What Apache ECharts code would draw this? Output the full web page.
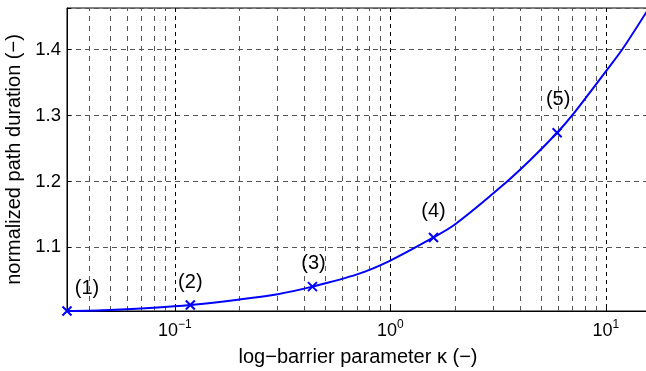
<!DOCTYPE html>
<html>
<head>
<meta charset="utf-8">
<script src="https://cdn.jsdelivr.net/npm/echarts@6/dist/echarts.min.js"></script>
<style>
html,body{margin:0;padding:0;background:#fff;}
#chart{width:646px;height:371px;}
</style>
</head>
<body>
<div id="chart"></div>
<script>
// ---- data ----
const curveKappa = [0.0316, 0.05, 0.08, 0.118, 0.2, 0.3, 0.435, 0.7, 1.0, 1.585, 2.0, 3.24, 4.47, 5.94, 6.97, 10, 11.9, 15.85];
const curveDuration = [1.0035, 1.0052, 1.0085, 1.0126, 1.021, 1.029, 1.0405, 1.059, 1.080, 1.115, 1.135, 1.191, 1.233, 1.2738, 1.30, 1.367, 1.40, 1.463];
const markKappa = [0.0316, 0.118, 0.435, 1.585, 5.94];
const markDuration = [1.0035, 1.0126, 1.0405, 1.115, 1.2738];
const markLabels = ['(1)', '(2)', '(3)', '(4)', '(5)'];
const minorGridX = [0.04, 0.05, 0.06, 0.07, 0.08, 0.09, 0.2, 0.3, 0.4, 0.5, 0.6, 0.7, 0.8, 0.9, 2, 3, 4, 5, 6, 7, 8, 9];
const xTickLabels = {'-1': '10{sup|−1}', '0': '10{sup|0}', '1': '10{sup|1}'};
const yTickLabels = ['1.1', '1.2', '1.3', '1.4'];

// ---- styles ----
const labelOffsets = [[20, -23], [0, -23], [1, -23], [0, -26], [1, -33]];
const FONT = '"Liberation Sans", Arial, sans-serif';

const chart = echarts.init(document.getElementById('chart'), null, {renderer: 'canvas'});
const option = {
  animation: false,
  backgroundColor: '#fff',
  grid: {left: 67, top: 8, right: -3, bottom: 60, show: true, borderColor: '#000', borderWidth: 1,
         containLabel: false, outerBoundsMode: 'none'},
  xAxis: {
    type: 'log', logBase: 10, min: 0.0316, max: 15.85,
    name: 'log−barrier parameter κ (−)', nameLocation: 'middle', nameGap: 36,
    nameTextStyle: {fontFamily: FONT, fontSize: 20, color: '#000'},
    axisLine: {show: true, lineStyle: {color: '#000', width: 1}},
    axisTick: {show: true, inside: true, length: 4, lineStyle: {color: '#000'}},
    axisLabel: {
      margin: 8, color: '#000', fontFamily: FONT, fontSize: 18,
      showMinLabel: false, showMaxLabel: false,
      formatter: function (v) {
        const e = Math.round(Math.log10(v));
        if (Math.abs(Math.log10(v) - e) > 1e-6) return '';
        return xTickLabels[String(e)] || '';
      },
      rich: {sup: {fontFamily: FONT, fontSize: 12, color: '#000', verticalAlign: 'top', padding: [0, 0, 12, 0]}}
    },
    splitLine: {show: true, lineStyle: {color: '#000', type: [4, 4], width: 1}}
  },
  yAxis: {
    type: 'value', min: 1.0035, max: 1.463, splitNumber: 5,
    name: 'normalized path duration (−)', nameLocation: 'middle', nameGap: 39,
    nameTextStyle: {fontFamily: FONT, fontSize: 20, color: '#000'},
    axisLine: {show: true, lineStyle: {color: '#000', width: 1}},
    axisTick: {show: true, inside: true, length: 4, lineStyle: {color: '#000'}},
    axisLabel: {
      margin: 6, color: '#000', fontFamily: FONT, fontSize: 18.5,
      formatter: function (v) {
        const s = v.toFixed(1);
        return (Math.abs(v - parseFloat(s)) < 1e-6 && yTickLabels.indexOf(s) >= 0) ? s : '';
      }
    },
    splitLine: {show: true, lineStyle: {color: '#555', type: [5, 4], width: 1}}
  },
  series: [
    {
      type: 'line',
      data: curveKappa.map((k, i) => [k, curveDuration[i]]),
      showSymbol: false,
      smooth: 0.3,
      lineStyle: {color: '#0000ff', width: 2},
      z: 5,
      markLine: {
        silent: true, symbol: 'none', label: {show: false},
        lineStyle: {color: '#555', type: [5, 5], width: 1},
        data: minorGridX.map(v => ({xAxis: v}))
      }
    },
    {
      type: 'scatter',
      symbol: 'path://M0,0L10,10M10,0L0,10',
      symbolSize: 9,
      itemStyle: {color: 'rgba(0,0,0,0)', borderColor: '#0000ff', borderWidth: 2, opacity: 1},
      z: 6,
      data: markKappa.map((k, i) => ({
        value: [k, markDuration[i]],
        label: {offset: labelOffsets[i]}
      })),
      label: {
        show: true, position: 'inside', color: '#000', fontFamily: FONT, fontSize: 20,
        textBorderWidth: 0, textShadowBlur: 0, opacity: 1,
        formatter: p => markLabels[p.dataIndex]
      }
    }
  ]
};
chart.setOption(option);
</script>
</body>
</html>
